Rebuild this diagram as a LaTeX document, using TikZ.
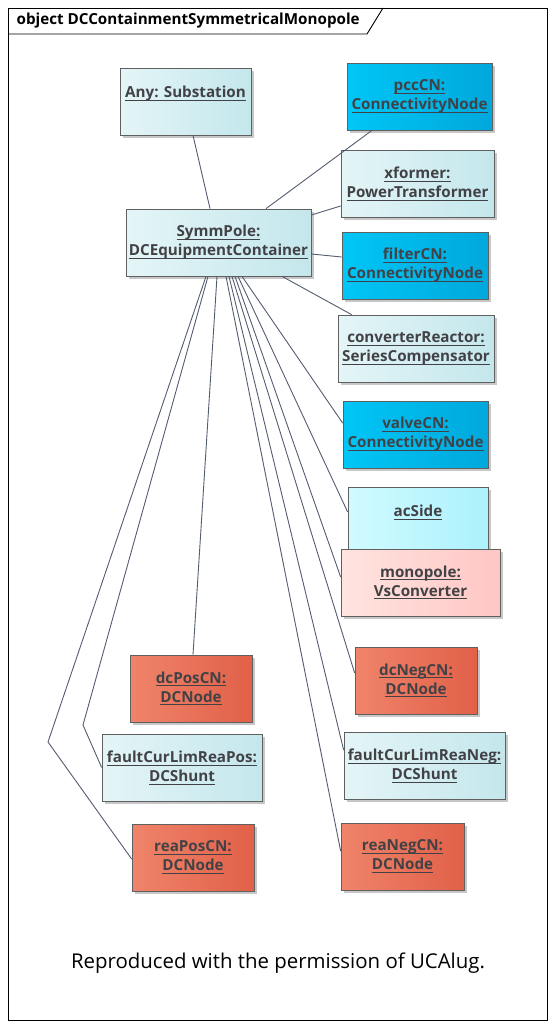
\documentclass[tikz,border=0pt]{standalone}
\usepackage{fontspec}
\setmainfont{Open Sans}
\usepackage{tikz}
\usetikzlibrary{shadows}

\definecolor{paleL}{RGB}{228,245,247}
\definecolor{paleR}{RGB}{196,231,236}
\definecolor{cnL}{RGB}{0,198,246}
\definecolor{cnR}{RGB}{0,168,220}
\definecolor{sideL}{RGB}{208,251,255}
\definecolor{sideR}{RGB}{172,241,252}
\definecolor{convL}{RGB}{255,228,224}
\definecolor{convR}{RGB}{255,198,196}
\definecolor{dcL}{RGB}{239,132,106}
\definecolor{dcR}{RGB}{225,96,72}
\definecolor{txt}{RGB}{66,66,70}
\definecolor{link}{RGB}{84,92,112}

% underlined line of an object name
\newcommand{\objline}[1]{\setbox0=\hbox{#1}\rlap{\rule[-3.4pt]{\wd0}{1pt}}\box0}

\begin{document}
\begin{tikzpicture}[x=1pt, y=-1pt, semithick,
    obj/.style={draw=gray!75!black, line width=0.7pt, inner sep=0pt, minimum height=67pt,
        align=center, text=txt, font=\bfseries\fontsize{15.2}{19}\selectfont,
        drop shadow={shadow xshift=3pt, shadow yshift=-3pt, fill=black, opacity=0.22}},
    pale/.style={obj, left color=paleL, right color=paleR},
    cnode/.style={obj, left color=cnL, right color=cnR},
    dcnode/.style={obj, left color=dcL, right color=dcR},
    link/.style={draw=link, line width=0.9pt}]
  \useasboundingbox (0,0) rectangle (555,1028);

  % frame
  \draw[line width=0.9pt] (8,8) rectangle (547,1020);
  \draw[line width=0.9pt] (8,34) -- (367,34) -- (383,8);
  \node[anchor=west, font=\bfseries\fontsize{15.2}{18}\selectfont] (title) at (13,21) {object DCContainmentSymmetricalMonopole};

  % objects
  \node[pale, minimum width=131pt]   (any)      at (185.5,101.5) {\objline{Any: Substation}\\ \mbox{}};
  \node[cnode, minimum width=145pt]  (pcc)      at (419.5,96.5)  {\objline{pccCN:}\\\objline{ConnectivityNode}};
  \node[pale, minimum width=153pt]   (xformer)  at (417.5,183.5) {\objline{xformer:}\\\objline{PowerTransformer}};
  \node[pale, minimum width=185pt]   (symm)     at (218.5,242.5) {\objline{SymmPole:}\\\objline{DCEquipmentContainer}};
  \node[cnode, minimum width=146pt]  (filter)   at (415,265.5)   {\objline{filterCN:}\\\objline{ConnectivityNode}};
  \node[pale, minimum width=156pt]   (reactor)  at (416,348.5)   {\objline{converterReactor:}\\\objline{SeriesCompensator}};
  \node[cnode, minimum width=145pt]  (valve)    at (415.5,434.5) {\objline{valveCN:}\\\objline{ConnectivityNode}};
  \node[obj, left color=sideL, right color=sideR, minimum width=140pt]
                                     (acside)   at (418,520.5)   {\objline{acSide}\\ \mbox{}};
  \node[obj, left color=convL, right color=convR, minimum width=159pt]
                                     (monopole) at (420.5,582.5) {\objline{monopole:}\\\objline{VsConverter}};
  \node[dcnode, minimum width=122pt] (dcpos)    at (191,688.5)   {\objline{dcPosCN:}\\\objline{DCNode}};
  \node[dcnode, minimum width=122pt] (dcneg)    at (416,680.5)   {\objline{dcNegCN:}\\\objline{DCNode}};
  \node[pale, minimum width=160pt]   (fclpos)   at (182,767.5)   {\objline{faultCurLimReaPos:}\\\objline{DCShunt}};
  \node[pale, minimum width=161pt]   (fclneg)   at (424.5,765.5) {\objline{faultCurLimReaNeg:}\\\objline{DCShunt}};
  \node[dcnode, minimum width=122pt] (reapos)   at (193,857.5)   {\objline{reaPosCN:}\\\objline{DCNode}};
  \node[dcnode, minimum width=123pt] (reaneg)   at (402.5,856.5) {\objline{reaNegCN:}\\\objline{DCNode}};

  \coordinate (bendA) at (83,725);
  \coordinate (bendB) at (48,742);

  % links
  \path[link] ([xshift=-8.5pt]symm.north) edge ([xshift=7.5pt]any.south)
              ([xshift=47.5pt]symm.north) edge ([xshift=-47.5pt]pcc.south)
              ([yshift=27.5pt]symm.east) edge ([yshift=-22.5pt]xformer.west)
              ([yshift=-11.5pt]symm.east) edge ([yshift=8.5pt]filter.west)
              ([xshift=63.5pt]symm.south) edge ([xshift=14pt]reactor.north west)
              ([xshift=23.5pt]symm.south) edge ([yshift=11.5pt]valve.west)
              ([xshift=19.5pt]symm.south) edge ([yshift=8.5pt]acside.west)
              ([xshift=16.5pt]symm.south) edge ([yshift=5.5pt]monopole.west)
              ([xshift=13.5pt]symm.south) edge ([yshift=7.5pt]dcneg.west)
              ([xshift=10.5pt]symm.south) edge ([yshift=15.5pt]fclneg.west)
              ([xshift=7.5pt]symm.south) edge ([yshift=5.5pt]reaneg.west)
              ([xshift=-1.5pt]symm.south) edge ([xshift=2pt]dcpos.north);
  \draw[link] ([xshift=-10.5pt]symm.south) -- (bendA) -- (fclpos.west);
  \draw[link] ([xshift=-12.5pt]symm.south) -- (bendB) -- ([yshift=-1.5pt]reapos.west);

  \node[font=\fontsize{20.4}{24}\selectfont] (credit) at (278,963) {Reproduced with the permission of UCAlug.};
\end{tikzpicture}
\end{document}
